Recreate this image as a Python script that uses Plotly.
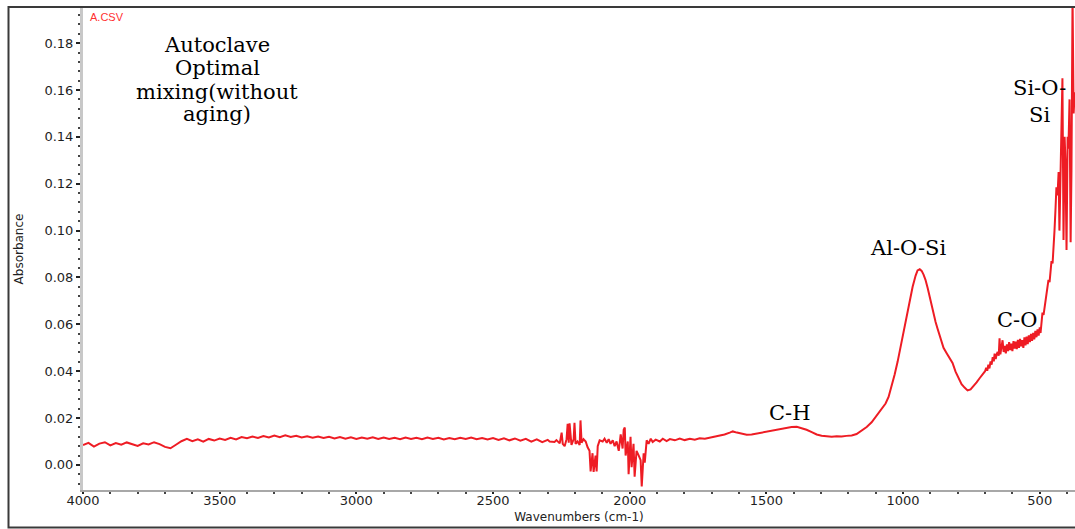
import plotly.graph_objects as go

# ---------------- data ----------------
wavenumber = [
    4000, 3980, 3960, 3940, 3920, 3900, 3880, 3860, 3840, 3820, 3800, 3780, 3760, 3740, 3720,
    3700, 3680, 3660, 3640, 3620, 3600, 3580, 3560, 3540, 3520, 3500, 3480, 3460, 3440, 3420,
    3400, 3380, 3360, 3340, 3320, 3300, 3280, 3260, 3240, 3220, 3200, 3180, 3160, 3140, 3120,
    3100, 3080, 3060, 3040, 3020, 3000, 2980, 2960, 2940, 2920, 2900, 2880, 2860, 2840, 2820,
    2800, 2780, 2760, 2740, 2720, 2700, 2680, 2660, 2640, 2620, 2600, 2580, 2560, 2540, 2520,
    2500, 2480, 2460, 2440, 2420, 2400, 2380, 2360, 2340, 2320, 2300,
    2293, 2275, 2268, 2256, 2249, 2245, 2238, 2231, 2227, 2223, 2220, 2213, 2205, 2202, 2198,
    2191, 2183, 2180, 2176, 2169, 2161, 2154, 2147, 2143, 2136, 2132, 2125, 2121, 2117, 2110,
    2099, 2092, 2084, 2077, 2070, 2062, 2055, 2048, 2040, 2033, 2026, 2022, 2018, 2015, 2007,
    2004, 1997, 1993, 1986, 1982, 1975, 1967, 1960, 1956, 1949, 1945, 1938, 1931, 1923, 1916,
    1905, 1890, 1879, 1865, 1853, 1835, 1817, 1799, 1780, 1762, 1744, 1725, 1707, 1689, 1671,
    1653, 1634, 1623, 1608, 1590, 1572, 1554, 1536, 1517, 1499, 1481, 1462, 1444, 1426, 1408,
    1389, 1371, 1353, 1334, 1316, 1298, 1280, 1261, 1243, 1225, 1207, 1188, 1170, 1152, 1133,
    1115, 1097, 1079, 1064, 1053, 1042, 1031, 1020, 1009, 998, 987, 976, 965, 954, 947,
    939, 932, 925, 918, 910, 903, 896, 888, 881, 874, 866, 859, 852, 841, 830,
    819, 808, 797, 786, 775, 764, 753, 742, 731, 720, 709,
    700, 696, 692, 688, 684, 680, 676, 672, 668, 665, 661, 658, 654, 650, 647,
    644, 640, 636, 632, 628, 624, 620, 616, 612, 608, 604, 600, 596, 592, 588,
    584, 580, 576, 572, 568, 564, 560, 556, 552, 548, 544, 540, 536, 532, 528,
    524, 520, 516, 512, 508, 504, 500, 497, 494,
    490, 486, 479, 472,
    468, 464, 461, 457, 453, 450, 446, 442, 439, 435, 431, 428, 424, 420, 417,
    413, 409, 406, 402, 398, 395, 391, 387, 384, 380, 376, 372,
]

absorbance = [
    0.0085, 0.0094, 0.0078, 0.0091, 0.0097, 0.0083, 0.0093, 0.0086, 0.0096, 0.0089, 0.0081, 0.0092, 0.0087, 0.0097, 0.0089,
    0.0077, 0.0071, 0.0086, 0.0101, 0.0111, 0.0101, 0.0109, 0.0099, 0.0111, 0.0104, 0.0113, 0.0107, 0.0116, 0.0109, 0.0119,
    0.0114, 0.0121, 0.0115, 0.0123, 0.0117, 0.0125, 0.0118, 0.0126, 0.0119, 0.0124, 0.0117, 0.0122, 0.0116, 0.0121, 0.0115,
    0.0120, 0.0113, 0.0119, 0.0112, 0.0118, 0.0111, 0.0117, 0.0112, 0.0118, 0.0111, 0.0117, 0.0111, 0.0116, 0.0110, 0.0117,
    0.0111, 0.0116, 0.0110, 0.0117, 0.0111, 0.0116, 0.0109, 0.0115, 0.0110, 0.0116, 0.0111, 0.0117, 0.0110, 0.0115, 0.0109,
    0.0115, 0.0107, 0.0114, 0.0105, 0.0113, 0.0103, 0.0111, 0.0099, 0.0109, 0.0097, 0.0107,
    0.0100, 0.0098, 0.0106, 0.0092, 0.0138, 0.0090, 0.0080, 0.0110, 0.0175, 0.0095, 0.0178, 0.0085, 0.0110, 0.0180, 0.0090,
    0.0100, 0.0085, 0.0190, 0.0095, 0.0110, 0.0100, 0.0075, 0.0060, -0.0028, 0.0050, -0.0030, 0.0040, -0.0028, 0.0080, 0.0105,
    0.0100, 0.0112, 0.0095, 0.0110, 0.0090, 0.0105, 0.0080, 0.0100, 0.0060, 0.0130, 0.0070, 0.0150, 0.0160, 0.0040, 0.0100,
    -0.0040, 0.0120, -0.0010, 0.0090, -0.0050, 0.0060, 0.0040, 0.0020, -0.0092, 0.0050, 0.0010, 0.0105, 0.0090, 0.0112, 0.0098,
    0.0108, 0.0100, 0.0112, 0.0102, 0.0110, 0.0105, 0.0113, 0.0106, 0.0112, 0.0108, 0.0114, 0.0112, 0.0116, 0.0120, 0.0124,
    0.0130, 0.0138, 0.0143, 0.0138, 0.0132, 0.0129, 0.0130, 0.0134, 0.0136, 0.0140, 0.0145, 0.0150, 0.0155, 0.0158, 0.0162,
    0.0163, 0.0158, 0.0150, 0.0140, 0.0130, 0.0125, 0.0121, 0.0120, 0.0122, 0.0121, 0.0124, 0.0126, 0.0132, 0.0145, 0.0162,
    0.0182, 0.0210, 0.0240, 0.0262, 0.0290, 0.0335, 0.0385, 0.0440, 0.0505, 0.0570, 0.0635, 0.0700, 0.0760, 0.0808, 0.0830,
    0.0835, 0.0828, 0.0812, 0.0790, 0.0755, 0.0718, 0.0675, 0.0640, 0.0610, 0.0582, 0.0550, 0.0520, 0.0500, 0.0478, 0.0458,
    0.0435, 0.0398, 0.0370, 0.0345, 0.0330, 0.0318, 0.0322, 0.0335, 0.0352, 0.0370, 0.0385,
    0.0400, 0.0414, 0.0402, 0.0428, 0.0412, 0.0442, 0.0428, 0.0460, 0.0442, 0.0475, 0.0452, 0.0470, 0.0482, 0.0466, 0.0540,
    0.0472, 0.0502, 0.0532, 0.0482, 0.0508, 0.0476, 0.0515, 0.0486, 0.0524, 0.0490, 0.0518, 0.0486, 0.0528, 0.0496, 0.0526,
    0.0494, 0.0534, 0.0500, 0.0538, 0.0506, 0.0532, 0.0500, 0.0544, 0.0510, 0.0548, 0.0516, 0.0553, 0.0524, 0.0559, 0.0530,
    0.0563, 0.0536, 0.0572, 0.0545, 0.0578, 0.0552, 0.0587, 0.0563, 0.0610,
    0.0650, 0.0640, 0.0700, 0.0740,
    0.0790, 0.0780, 0.0830, 0.0870, 0.0860, 0.0950, 0.1000, 0.1100, 0.1185, 0.1150, 0.1250, 0.1000, 0.1300, 0.1420, 0.1650,
    0.0960, 0.1400, 0.1300, 0.0917, 0.1400, 0.1350, 0.1560, 0.0950, 0.1250, 0.2000, 0.1500, 0.1590,
]

x_tick_values = [4000, 3500, 3000, 2500, 2000, 1500, 1000, 500]
x_tick_labels = ["4000", "3500", "3000", "2500", "2000", "1500", "1000", "500"]
y_tick_values = [0.00, 0.02, 0.04, 0.06, 0.08, 0.10, 0.12, 0.14, 0.16, 0.18]

band_labels = ["C-H", "Al-O-Si", "C-O", "Si-O-<br>Si"]
band_x = [1415, 983, 584, 502]
band_y = [0.0222, 0.0925, 0.0618, 0.155]

sample_lines = ["Autoclave", "Optimal", "mixing(without", "aging)"]

# ---------------- figure ----------------
W, H = 1075, 529
ML, MR, MT, MB = 83, 0, 8, 39
plot_h = H - MT - MB


def py_to_paper(py):
    return 1 - (py - MT) / plot_h


def px_to_paper(px):
    return (px - ML) / (W - ML - MR)


fig = go.Figure()
fig.add_trace(go.Scatter(
    x=wavenumber, y=absorbance, mode="lines",
    line=dict(color="#ee1c24", width=2),
    showlegend=False, hoverinfo="x+y",
))

tick_font = dict(family="DejaVu Sans", size=13, color="#1e1e1e")
title_font = dict(family="DejaVu Sans", size=12, color="#222222")
serif = "DejaVu Serif"

annotations = []
for txt, bx, by in zip(band_labels, band_x, band_y):
    annotations.append(dict(
        x=bx, y=by, xref="x", yref="y", text=txt, showarrow=False,
        font=dict(family=serif, size=21, color="#000000"),
        xanchor="center", yanchor="middle", align="center",
    ))

sample_py = [45, 68, 92, 114]
for txt, py in zip(sample_lines, sample_py):
    annotations.append(dict(
        x=px_to_paper(217), y=py_to_paper(py), xref="paper", yref="paper",
        text=txt, showarrow=False,
        font=dict(family=serif, size=21, color="#000000"),
        xanchor="center", yanchor="middle",
    ))

annotations.append(dict(
    x=px_to_paper(88), y=py_to_paper(17), xref="paper", yref="paper",
    text="A.CSV", showarrow=False, xanchor="left", yanchor="middle",
    font=dict(family="Liberation Sans", size=11, color="#ff3030"),
))

fig.update_layout(
    width=W, height=H,
    margin=dict(l=ML, r=MR, t=MT, b=MB, pad=0),
    paper_bgcolor="white", plot_bgcolor="white",
    annotations=annotations,
    shapes=[dict(
        type="rect", xref="paper", yref="paper",
        x0=px_to_paper(8.5), x1=1.02, y0=py_to_paper(527.5), y1=py_to_paper(7),
        line=dict(color="#3a3a3a", width=2), fillcolor="rgba(0,0,0,0)", layer="above",
    )],
)

fig.update_xaxes(
    range=[4000, 371],
    tickmode="array", tickvals=x_tick_values, ticktext=x_tick_labels,
    ticks="outside", ticklen=2, tickwidth=2, tickcolor="#222222",
    ticklabelstandoff=-4,
    showline=True, linecolor="#a8a8a8", linewidth=1.5,
    showgrid=False, zeroline=False,
    minor=dict(dtick=100, tick0=0, ticks="outside", ticklen=2, tickwidth=1.5, tickcolor="#444444"),
    tickfont=tick_font,
    title=dict(text="Wavenumbers (cm-1)", font=title_font, standoff=5),
)

fig.update_yaxes(
    range=[-0.0107, 0.195],
    tickmode="array", tickvals=y_tick_values, tickformat=".2f",
    ticks="outside", ticklen=4, tickwidth=1.5, tickcolor="#222222",
    showline=True, linecolor="#c8c8c8", linewidth=3,
    showgrid=False, zeroline=False,
    minor=dict(dtick=0.004, tick0=0, ticks="outside", ticklen=2, tickwidth=1.5, tickcolor="#444444"),
    tickfont=tick_font,
    title=dict(text="Absorbance", font=title_font, standoff=19),
)

fig.write_html("out.html")
